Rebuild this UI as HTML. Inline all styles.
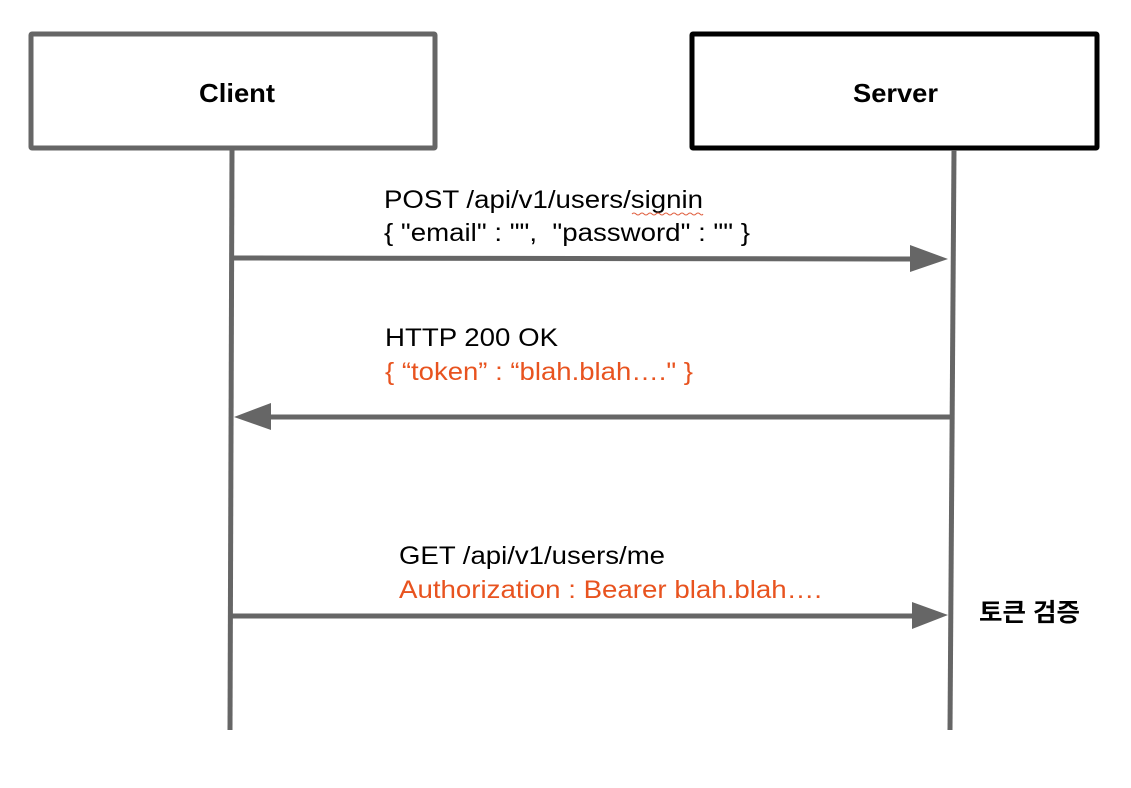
<!DOCTYPE html>
<html><head><meta charset="utf-8"><style>
html,body{margin:0;padding:0;background:#fff;}
svg{display:block}
text{font-family:"Liberation Sans","Noto Sans CJK KR",sans-serif;}
</style></head><body>
<svg width="1131" height="788" viewBox="0 0 1131 788" xmlns="http://www.w3.org/2000/svg">
<rect width="1131" height="788" fill="#fff"/>
<rect x="31" y="34" width="404" height="114" fill="#fff" stroke="#666" stroke-width="5" rx="1"/>
<rect x="692" y="34" width="405" height="114" fill="#fff" stroke="#000" stroke-width="5" rx="1"/>
<text x="199" y="102" font-size="26" font-weight="bold" textLength="76" lengthAdjust="spacingAndGlyphs" fill="#000">Client</text>
<text x="853" y="102" font-size="26" font-weight="bold" textLength="85" lengthAdjust="spacingAndGlyphs" fill="#000">Server</text>
<line x1="232" y1="150" x2="230" y2="730" stroke="#666" stroke-width="5"/>
<line x1="954" y1="150" x2="950" y2="730" stroke="#666" stroke-width="5"/>
<line x1="232" y1="258" x2="915" y2="259" stroke="#666" stroke-width="5"/>
<polygon points="910,245 948,259 910,272" fill="#666"/>
<line x1="950" y1="417" x2="268" y2="417" stroke="#666" stroke-width="5"/>
<polygon points="271,403 234,417 271,430" fill="#666"/>
<line x1="231" y1="616" x2="915" y2="616" stroke="#666" stroke-width="5"/>
<polygon points="912,602 948,615 912,629" fill="#666"/>
<text x="384" y="208" font-size="25" textLength="319" lengthAdjust="spacingAndGlyphs" fill="#000">POST /api/v1/users/signin</text>
<path d="M632,214 q2,-2 4,0 t4,0 t4,0 t4,0 t4,0 t4,0 t4,0 t4,0 t4,0 t4,0 t4,0 t4,0 t4,0 t4,0 t4,0 t4,0 t4,0 t3,0" fill="none" stroke="#e06040" stroke-width="1"/>
<text x="384" y="241" font-size="25" textLength="366" lengthAdjust="spacingAndGlyphs" fill="#000" xml:space="preserve">{ "email" : "",  "password" : "" }</text>
<text x="385" y="346" font-size="25" textLength="173" lengthAdjust="spacingAndGlyphs" fill="#000">HTTP 200 OK</text>
<text x="385" y="380" font-size="25" textLength="308" lengthAdjust="spacingAndGlyphs" fill="#e8531f">{ “token” : “blah.blah…." }</text>
<text x="399" y="564" font-size="25" textLength="266" lengthAdjust="spacingAndGlyphs" fill="#000">GET /api/v1/users/me</text>
<text x="399" y="598" font-size="25" textLength="423" lengthAdjust="spacingAndGlyphs" fill="#e8531f">Authorization : Bearer blah.blah….</text>
<text x="979" y="621" font-size="25" font-weight="bold" textLength="101" lengthAdjust="spacingAndGlyphs" fill="#000">토큰 검증</text>
</svg>
</body></html>
